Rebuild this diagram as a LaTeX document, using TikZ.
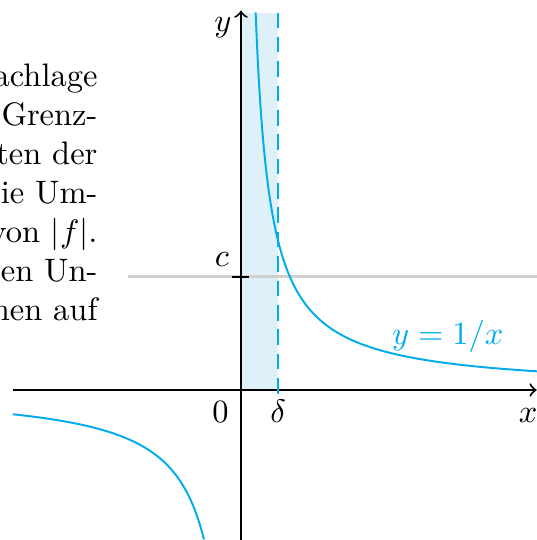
\documentclass[tikz,border=0pt]{standalone}
\usetikzlibrary{arrows.meta}
\definecolor{curveblue}{RGB}{0,172,236}
\definecolor{shadeblue}{RGB}{222,241,249}
\definecolor{guidegray}{RGB}{208,208,208}
\tikzset{
  axis/.style={line width=0.6pt,black},
  curve/.style={line width=0.6pt,curveblue},
  paraline/.style={anchor=base east,inner sep=0pt,font=\fontsize{10}{12}\selectfont},
  lbl/.style={anchor=base,inner sep=0pt},
}
\begin{document}
\begin{tikzpicture}[x=22.9pt,y=22.9pt]
\useasboundingbox (-3.239,-2.016) rectangle (3.978,5.242);
% shaded strip
\fill[shadeblue] (0,0) rectangle (0.5,5.074);
% gray level line
\coordinate (gl) at (-1.519,1.525);
\coordinate (gr) at (3.99,1.525);
\draw[guidegray,line width=1pt] (gl) -- (gr);
% axes
\coordinate (xs) at (-3.065,0);
\coordinate (xe) at (3.975,0);
\coordinate (ys) at (0,-2.1);
\coordinate (ye) at (0,5.1);
\draw[axis,-to] (xs) -- (xe);
\draw[axis,-to] (ys) -- (ye);
% tick at c
\coordinate (tl) at (-0.115,1.525);
\coordinate (tr) at (0.11,1.525);
\draw[axis] (tl) -- (tr);
% dashed delta line
\coordinate (dt) at (0.5,5.074);
\coordinate (db) at (0.5,-0.094);
\draw[curveblue,line width=0.6pt,dash pattern=on 4.8pt off 2.7pt] (dt) -- (db);
% hyperbola
\draw[curve,domain=0.197:3.99,samples=200,smooth] plot (\x,{1/\x});
\draw[curve,domain=-3.065:-0.496,samples=150,smooth] plot (\x,{1/\x});
% labels
\node[lbl,anchor=base east] (ylab) at (-0.12,4.82) {$y$};
\node[lbl] (xlab) at (3.86,-0.43) {$x$};
\node[lbl] (zero) at (-0.276,-0.43) {$0$};
\node[lbl] (delta) at (0.5,-0.43) {$\delta$};
\node[lbl] (clab) at (-0.255,1.66) {$c$};
\node[lbl,text=curveblue] (flab) at (2.78,0.61) {$y=1/x$};
% paragraph fragments
\node[paraline] (p1) at (-1.92,4.073) {achlage};
\node[paraline] (p2) at (-1.92,3.549) {Grenz-};
\node[paraline] (p3) at (-1.92,3.025) {ten der};
\node[paraline] (p4) at (-1.92,2.501) {ie Um-};
\node[paraline] (p5) at (-1.92,1.977) {von $|f|$.};
\node[paraline] (p6) at (-1.92,1.453) {en Un-};
\node[paraline] (p7) at (-1.92,0.929) {hen auf};
\end{tikzpicture}
\end{document}
